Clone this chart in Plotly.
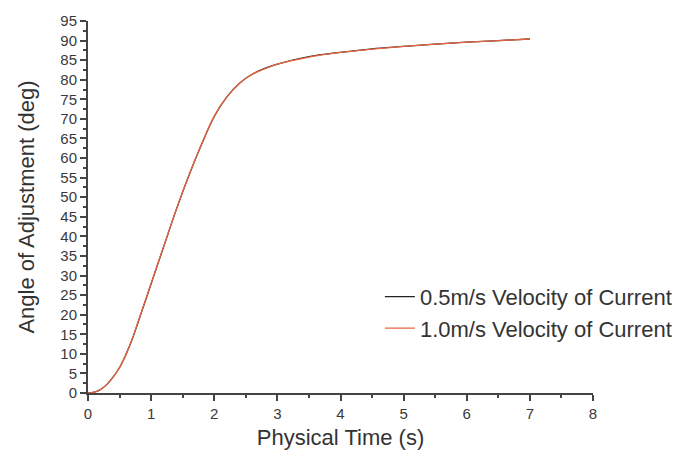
import plotly.graph_objects as go

time_s = [0, 0.1, 0.2, 0.3, 0.4, 0.5, 0.6, 0.7, 0.8, 0.9, 1.0, 1.2, 1.4, 1.6, 1.8, 2.0,
          2.2, 2.4, 2.6, 2.8, 3.0, 3.5, 4.0, 4.5, 5.0, 5.5, 6.0, 6.5, 7.0]
angle_05 = [0, 0.2, 0.9, 2.2, 4.1, 6.5, 9.8, 13.7, 18.4, 23.1, 27.9, 37.4, 46.9, 55.6, 63.5, 70.6,
            75.6, 79.1, 81.4, 82.9, 84.0, 85.9, 87.0, 87.9, 88.5, 89.1, 89.6, 90.0, 90.4]
angle_10 = [0, 0.2, 0.9, 2.2, 4.1, 6.5, 9.8, 13.8, 18.5, 23.2, 28.0, 37.5, 47.0, 55.7, 63.6, 70.7,
            75.6, 79.1, 81.4, 82.8, 84.0, 85.8, 87.0, 87.8, 88.5, 89.1, 89.6, 90.0, 90.4]
series_names = ["0.5m/s Velocity of Current", "1.0m/s Velocity of Current"]

font = "Liberation Sans, Arial, sans-serif"
fig = go.Figure()
fig.add_trace(go.Scatter(x=time_s, y=angle_05, mode="lines", name=series_names[0],
                         line=dict(color="#222222", width=1.3, shape="spline")))
fig.add_trace(go.Scatter(x=time_s, y=angle_10, mode="lines", name=series_names[1],
                         line=dict(color="#e8643f", width=1.3, shape="spline")))

axis_common = dict(showline=True, linecolor="#444444", linewidth=2, ticks="outside",
                   tickcolor="#444444", tickwidth=2, ticklen=6, showgrid=False, zeroline=False,
                   tickfont=dict(family=font, size=15, color="#3a3a3a"))
fig.update_xaxes(range=[0, 8], dtick=1, tick0=0,
                 minor=dict(dtick=0.5, ticklen=3, tickcolor="#444444", ticks="outside"),
                 title=dict(text="Physical Time (s)", font=dict(family=font, size=22, color="#333333"),
                            standoff=9),
                 **axis_common)
fig.update_yaxes(range=[0, 95], dtick=5, tick0=0,
                 minor=dict(dtick=2.5, ticklen=3, tickcolor="#444444", ticks="outside"),
                 title=dict(text="Angle of Adjustment (deg)", font=dict(family=font, size=22, color="#333333"),
                            standoff=20),
                 **axis_common)
fig.update_layout(width=695, height=460, margin=dict(l=88, r=102, t=15, b=67),
                  plot_bgcolor="white", paper_bgcolor="white",
                  legend=dict(x=0.578, y=0.315, xanchor="left", yanchor="top",
                              font=dict(family=font, size=22, color="#333333"),
                              bgcolor="rgba(0,0,0,0)", tracegroupgap=0))
fig.write_html("out.html")
